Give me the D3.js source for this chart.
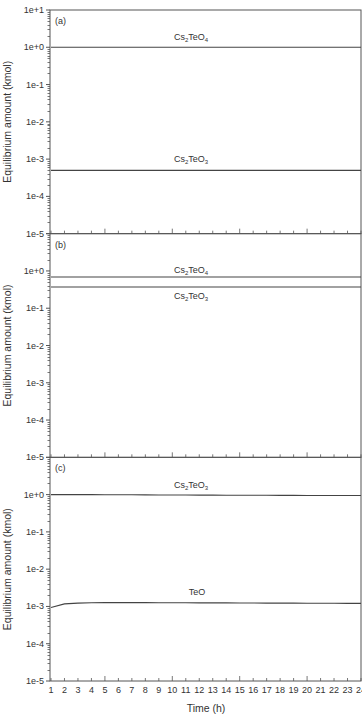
<!DOCTYPE html>
<html>
<head>
<meta charset="utf-8">
<script src="https://cdn.jsdelivr.net/npm/d3@7"></script>
<style>
  body { margin: 0; background: #fff; }
  svg { display: block; font-family: "Liberation Sans", Arial, sans-serif; }
  .tick-label { font-size: 9px; fill: #333; }
  .axis-title { font-size: 10.5px; fill: #333; }
  .series-label { font-size: 9px; fill: #333; }
</style>
</head>
<body>
<div id="chart"></div>
<script>
// ========== Data ==========
const hours = [1, 2, 3, 4, 5, 6, 7, 8, 9, 10, 11, 12, 13, 14, 15, 16, 17, 18, 19, 20, 21, 22, 23, 24];
const yTickValues = [10, 1, 0.1, 0.01, 0.001, 0.0001, 0.00001];
const yTickLabels = ["1e+1", "1e+0", "1e-1", "1e-2", "1e-3", "1e-4", "1e-5"];
const panelNames = ["(a)", "(b)", "(c)"];

// (a)
const aCs2TeO4 = [1, 1, 1, 1, 1, 1, 1, 1, 1, 1, 1, 1, 1, 1, 1, 1, 1, 1, 1, 1, 1, 1, 1, 1];
const aCs2TeO3 = [5e-4, 5e-4, 5e-4, 5e-4, 5e-4, 5e-4, 5e-4, 5e-4, 5e-4, 5e-4, 5e-4, 5e-4, 5e-4, 5e-4, 5e-4, 5e-4, 5e-4, 5e-4, 5e-4, 5e-4, 5e-4, 5e-4, 5e-4, 5e-4];
// (b)
const bCs2TeO4 = [0.69, 0.69, 0.69, 0.69, 0.69, 0.69, 0.69, 0.69, 0.69, 0.69, 0.69, 0.69, 0.69, 0.69, 0.69, 0.69, 0.69, 0.69, 0.69, 0.69, 0.69, 0.69, 0.69, 0.69];
const bCs2TeO3 = [0.37, 0.37, 0.37, 0.37, 0.37, 0.37, 0.37, 0.37, 0.37, 0.37, 0.37, 0.37, 0.37, 0.37, 0.37, 0.37, 0.37, 0.37, 0.37, 0.37, 0.37, 0.37, 0.37, 0.37];
// (c)
const cCs2TeO3 = [1.0, 1.0, 1.0, 1.0, 0.995, 0.99, 0.99, 0.985, 0.98, 0.98, 0.975, 0.97, 0.97, 0.965, 0.96, 0.96, 0.96, 0.955, 0.955, 0.95, 0.95, 0.95, 0.95, 0.95];
const cTeO = [9.4e-4, 1.17e-3, 1.23e-3, 1.26e-3, 1.27e-3, 1.27e-3, 1.27e-3, 1.27e-3, 1.26e-3, 1.26e-3, 1.26e-3, 1.25e-3, 1.25e-3, 1.25e-3, 1.24e-3, 1.24e-3, 1.23e-3, 1.23e-3, 1.23e-3, 1.22e-3, 1.22e-3, 1.22e-3, 1.21e-3, 1.21e-3];

const panels = [
  { name: panelNames[0], series: [
    { label: "TeO4", values: aCs2TeO4, lx: 191, dy: -7 },
    { label: "TeO3", values: aCs2TeO3, lx: 191, dy: -8 },
  ] },
  { name: panelNames[1], series: [
    { label: "TeO4", values: bCs2TeO4, lx: 191, dy: -3.5 },
    { label: "TeO3", values: bCs2TeO3, lx: 191, dy: 12 },
  ] },
  { name: panelNames[2], series: [
    { label: "TeO3", values: cCs2TeO3, lx: 191, dy: -6.5, isCs: true },
    { label: "TeO", values: cTeO, lx: 197, dy: -8, plain: true },
  ] },
];

// ========== Layout ==========
const width = 362;
const height = 721;
const margin = { left: 50, right: 1, top: 10, bottom: 40 };
const panelH = (681 - margin.top) / 3;
const lineColor = "#444";

const svg = d3.select("#chart").append("svg")
  .attr("width", width)
  .attr("height", height);

const x = d3.scaleLinear()
  .domain([1, 24])
  .range([margin.left + 1, width - margin.right]);

// ========== Panels ==========
panels.forEach((panel, i) => {
  const top = margin.top + i * panelH;
  const bottom = top + panelH;

  const y = d3.scaleLog()
    .domain([1e-5, 10])
    .range([bottom, top]);

  const g = svg.append("g");

  // frame
  g.append("rect")
    .attr("x", margin.left)
    .attr("y", top)
    .attr("width", width - margin.right - margin.left)
    .attr("height", panelH)
    .attr("fill", "none")
    .attr("stroke", "#555")
    .attr("stroke-width", 1);

  // y minor ticks
  const minor = [];
  for (let e = -5; e < 1; e++) {
    for (let m = 2; m <= 9; m++) minor.push(m * Math.pow(10, e));
  }
  g.selectAll(".ymin")
    .data(minor)
    .enter()
    .append("line")
    .attr("x1", margin.left - 2.5)
    .attr("x2", margin.left)
    .attr("y1", (d) => Math.round(y(d)) + 0.5)
    .attr("y2", (d) => Math.round(y(d)) + 0.5)
    .attr("stroke", "#555")
    .attr("stroke-width", 0.8);

  // y major ticks + labels
  g.selectAll(".ymaj")
    .data(yTickValues)
    .enter()
    .append("line")
    .attr("x1", margin.left - 4)
    .attr("x2", margin.left)
    .attr("y1", (d) => y(d))
    .attr("y2", (d) => y(d))
    .attr("stroke", "#555");

  g.selectAll(".ylab")
    .data(yTickValues.filter((d, k) => i === 0 || k > 0))
    .enter()
    .append("text")
    .attr("class", "tick-label")
    .attr("x", margin.left - 6)
    .attr("y", (d) => y(d) + 3)
    .attr("text-anchor", "end")
    .text((d) => yTickLabels[yTickValues.indexOf(d)]);

  // x ticks, pointing inward
  g.selectAll(".xt")
    .data(hours)
    .enter()
    .append("line")
    .attr("x1", (d) => x(d))
    .attr("x2", (d) => x(d))
    .attr("y1", bottom)
    .attr("y2", (d) => bottom - (d % 5 === 0 ? 5 : 3))
    .attr("stroke", "#555")
    .attr("stroke-width", 0.8);

  // y title
  g.append("text")
    .attr("class", "axis-title")
    .attr("transform", `translate(11,${(top + bottom) / 2}) rotate(-90)`)
    .attr("text-anchor", "middle")
    .text("Equilibrium amount (kmol)");

  // panel name
  g.append("text")
    .attr("class", "series-label")
    .attr("x", margin.left + 5)
    .attr("y", top + 14)
    .text(panel.name);

  // lines
  const line = d3.line()
    .x((d, k) => x(hours[k]))
    .y((d) => y(d));

  panel.series.forEach((s) => {
    g.append("path")
      .datum(s.values)
      .attr("fill", "none")
      .attr("stroke", lineColor)
      .attr("stroke-width", 1.1)
      .attr("d", line);

    const t = g.append("text")
      .attr("class", "series-label")
      .attr("x", s.lx)
      .attr("y", y(s.values[9]) + s.dy)
      .attr("text-anchor", "middle");
    if (s.plain) {
      t.text(s.label);
    } else {
      t.append("tspan").text("Cs");
      t.append("tspan").attr("font-size", "6px").attr("dy", 2).text("2");
      t.append("tspan").attr("dy", -2).text(s.label.slice(0, 3));
      t.append("tspan").attr("font-size", "6px").attr("dy", 2).text(s.label.slice(3));
    }
  });

  // x tick labels on bottom panel
  if (i === panels.length - 1) {
    g.selectAll(".xlab")
      .data(hours)
      .enter()
      .append("text")
      .attr("class", "tick-label")
      .attr("x", (d) => x(d))
      .attr("y", bottom + 12)
      .attr("text-anchor", "middle")
      .text((d) => d);

    g.append("text")
      .attr("class", "axis-title")
      .attr("x", 206)
      .attr("y", bottom + 31)
      .attr("text-anchor", "middle")
      .text("Time (h)");
  }
});
</script>
</body>
</html>
